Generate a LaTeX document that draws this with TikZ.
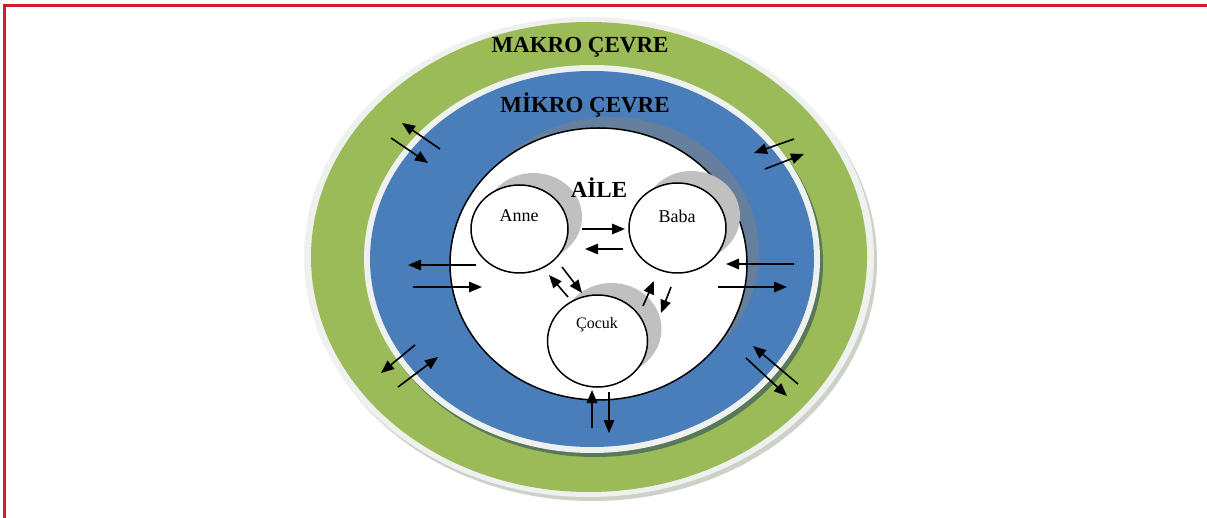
\documentclass[tikz,border=0pt]{standalone}
\usepackage{fontspec}
\setmainfont{Liberation Serif}
\usetikzlibrary{arrows.meta,shapes.geometric}
\definecolor{frameRed}{RGB}{208,28,40}
\definecolor{macroGreen}{RGB}{155,187,89}
\definecolor{microBlue}{RGB}{74,126,187}
\definecolor{rimWhite}{RGB}{238,241,238}
\definecolor{outerShadow}{RGB}{205,210,200}
\definecolor{blueShadow}{RGB}{88,120,90}
\definecolor{circShadow}{RGB}{192,192,192}
\begin{document}
\begin{tikzpicture}[x=1pt,y=-1pt,
  flow/.style={line width=1.6pt,-{Triangle[length=13pt,width=10.5pt]}},
  member/.style={ellipse,draw=black,line width=1.5pt,fill=white,inner sep=0pt},
  bigtitle/.style={font=\bfseries\fontsize{23}{23}\selectfont,inner sep=0pt},
  memtext/.style={font=\fontsize{18}{18}\selectfont,inner sep=0pt}]
\useasboundingbox (0,0) rectangle (1207,518);
\fill[white] (0,0) rectangle (1207,518);
% red frame
\draw[frameRed,line width=3pt] (4.5,518) -- (4.5,6) -- (1207,6);
% macro environment
\fill[outerShadow] (592,261) ellipse [x radius=285pt, y radius=240pt];
\fill[rimWhite] (589,257) ellipse [x radius=285pt, y radius=240pt];
\fill[macroGreen] (589,257) ellipse [x radius=278pt, y radius=235pt];
% micro environment
\fill[blueShadow] (595,263) ellipse [x radius=228pt, y radius=194pt];
\fill[rimWhite] (592,259) ellipse [x radius=228pt, y radius=194pt];
\fill[microBlue] (592,259) ellipse [x radius=222pt, y radius=188pt];
% family circle with shadow
\fill[gray,opacity=0.5] (610.5,253) ellipse [x radius=148.5pt, y radius=136pt];
\node[member,minimum width=297pt,minimum height=272pt] (aile) at (598.5,264) {};
% member shadows
\fill[circShadow] (533.5,217) ellipse [x radius=48.5pt, y radius=44pt];
\fill[circShadow] (691.5,216) ellipse [x radius=48.5pt, y radius=45pt];
\fill[circShadow] (611.5,329) ellipse [x radius=50pt, y radius=46pt];
\node[member,minimum width=97pt,minimum height=88pt] (anne) at (519.5,229) {};
\node[member,minimum width=97pt,minimum height=90pt] (baba) at (677.5,228) {};
\node[member,minimum width=100pt,minimum height=92pt] (cocuk) at (597.5,341) {};
% texts
\node[bigtitle] (makro) at (580,47) {MAKRO ÇEVRE};
\node[bigtitle] (mikro) at (585,105) {MİKRO ÇEVRE};
\node[bigtitle] (ailet) at (599,188) {AİLE};
\node[memtext] (annet) at (519,216) {Anne};
\node[memtext] (babat) at (677,216) {Baba};
\node[memtext,font=\fontsize{16}{16}\selectfont] (cocukt) at (597,325) {Çocuk};
% inner arrows
\draw[flow] (582,229) -- (625,229);
\draw[flow] (623,249) -- (585,249);
\draw[flow] (562,267) -- (582,293);
\draw[flow] (568,297) -- (549,275);
\draw[flow] (643,306) -- (654,281);
\draw[flow] (671,287) -- (661,313);
% outer arrows
\draw[flow] (440,149) -- (402,123);
\draw[flow] (391,138) -- (428,163);
\draw[flow] (476,265) -- (408,265);
\draw[flow] (413,287) -- (482,287);
\draw[flow] (415,345) -- (381,373);
\draw[flow] (398,387) -- (438,357);
\draw[flow] (794,139) -- (754,153);
\draw[flow] (765,169) -- (804,154);
\draw[flow] (794,264) -- (726,264);
\draw[flow] (718,287) -- (787,287);
\draw[flow] (798,384) -- (753,346);
\draw[flow] (746,358) -- (787,396);
\draw[flow] (592,428) -- (592,390);
\draw[flow] (609,392) -- (609,433);
\end{tikzpicture}
\end{document}
